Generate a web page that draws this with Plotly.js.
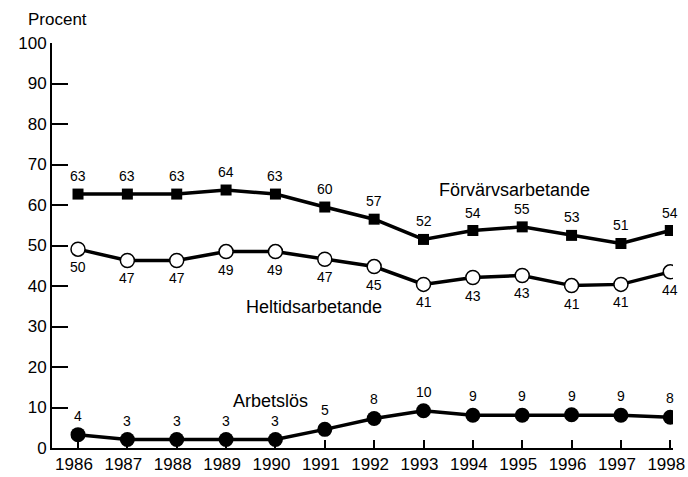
<!DOCTYPE html>
<html><head><meta charset="utf-8">
<script src="https://cdn.plot.ly/plotly-3.0.1.min.js"></script>
<style>html,body{margin:0;padding:0;background:#fff}#c{width:688px;height:477px}</style>
</head><body><div id="c"></div>
<script>
const years = [1986,1987,1988,1989,1990,1991,1992,1993,1994,1995,1996,1997,1998];
const forvarv = [62.7,62.7,62.7,63.7,62.7,59.5,56.5,51.5,53.7,54.6,52.5,50.5,53.7];
const forvarvLabels = [63,63,63,64,63,60,57,52,54,55,53,51,54];
const heltid = [49.1,46.3,46.3,48.5,48.5,46.6,44.8,40.4,42.1,42.6,40.1,40.4,43.5];
const heltidLabels = [50,47,47,49,49,47,45,41,43,43,41,41,44];
const arbetslos = [3.3,2.1,2.1,2.1,2.1,4.6,7.3,9.2,8.1,8.1,8.2,8.1,7.6];
const arbetslosLabels = [4,3,3,3,3,5,8,10,9,9,9,9,8];
const yTicks = [0,10,20,30,40,50,60,70,80,90,100];

const FONT = "Liberation Sans, Arial, Helvetica, sans-serif";
const line = {color:'#000', width:3.5};

const traces = [
  {x:years, y:forvarv, mode:'lines+markers', line:line,
   marker:{symbol:'square', size:11, color:'#000'}},
  {x:years, y:heltid, mode:'lines+markers', line:line,
   marker:{symbol:'circle', size:14, color:'#fff', line:{color:'#000', width:1.5}}},
  {x:years, y:arbetslos, mode:'lines+markers', line:line,
   marker:{symbol:'circle', size:15, color:'#000'}}
];

const ann = [];
function addLabels(ys, labels, shift){
  years.forEach((yr,i)=>ann.push({x:yr, y:ys[i], text:String(labels[i]), showarrow:false,
    yshift:shift, font:{family:FONT, size:14, color:'#000'}}));
}
addLabels(forvarv, forvarvLabels, 18);
addLabels(heltid, heltidLabels, -18);
addLabels(arbetslos, arbetslosLabels, 19);
ann.push({x:1994.85, y:63.7, text:'Förvärvsarbetande', showarrow:false, font:{family:FONT, size:18, color:'#000'}});
ann.push({x:1990.78, y:34.9, text:'Heltidsarbetande', showarrow:false, font:{family:FONT, size:18, color:'#000'}});
ann.push({x:1989.89, y:11.6, text:'Arbetslös', showarrow:false, font:{family:FONT, size:18, color:'#000'}});
ann.push({xref:'paper', yref:'paper', x:-0.042, y:1.059, xanchor:'left', yanchor:'middle',
  text:'Procent', showarrow:false, font:{family:FONT, size:17, color:'#000'}});

const layout = {
  width:688, height:477,
  margin:{l:52, r:15, t:43, b:29},
  paper_bgcolor:'#fff', plot_bgcolor:'#fff',
  showlegend:false,
  font:{family:FONT, color:'#000'},
  xaxis:{range:[1985.473,1998.055], tickvals:years, ticktext:years.map(String),
    showgrid:false, zeroline:false, showline:true, linecolor:'#000', linewidth:2,
    ticks:'inside', ticklen:8, tickwidth:2, tickcolor:'#000', ticklabeloverflow:'allow',
    ticklabelshift:-4,
    tickfont:{family:FONT, size:17, color:'#000'}},
  yaxis:{range:[0,100], tickvals:yTicks, showgrid:false, zeroline:false,
    showline:true, linecolor:'#000', linewidth:2,
    ticks:'inside', ticklen:16, tickwidth:2, tickcolor:'#000',
    tickfont:{family:FONT, size:17, color:'#000'}},
  annotations:ann
};
Plotly.newPlot('c', traces, layout, {displayModeBar:false, staticPlot:true});
</script></body></html>
